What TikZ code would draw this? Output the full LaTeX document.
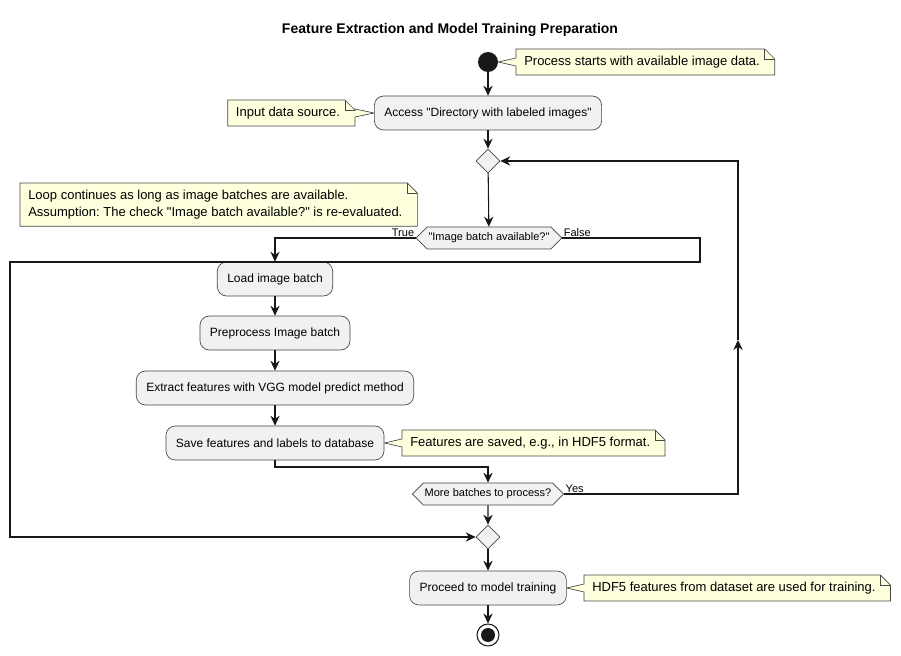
\documentclass[tikz,border=0pt]{standalone}
\usepackage{fontspec}
\setmainfont{Liberation Sans}[Ligatures=TeXOff]
\frenchspacing
\usetikzlibrary{arrows.meta,calc,shapes.geometric,shapes.symbols,backgrounds}

\definecolor{actfill}{HTML}{F1F1F1}
\definecolor{notefill}{HTML}{FEFFDD}
\definecolor{linecol}{HTML}{181818}

\tikzset{
  action/.style={rectangle, rounded corners=7pt, draw=linecol!80, fill=actfill, line width=0.5pt,
    font=\fontsize{9}{11}\selectfont, inner xsep=7.5pt, minimum height=25.5pt},
  test/.style={signal, signal to=east and west, draw=linecol!80, fill=actfill, line width=0.5pt,
    font=\fontsize{8.25}{10}\selectfont, minimum height=16.5pt, inner xsep=1pt},
  merge/.style={diamond, draw=linecol!80, fill=actfill, line width=0.5pt, minimum size=18pt, inner sep=0pt},
  note/.style={font=\fontsize{9.75}{13}\selectfont, inner xsep=6pt, inner ysep=5pt, align=left,
    execute at end node={\hspace*{5pt}}},
  notebox/.style={draw=linecol!80, fill=notefill, line width=0.5pt},
  flow/.style={draw=linecol, line width=0.8pt, -{Stealth[length=7.5pt,width=7pt,inset=2.5pt]}},
  lbl/.style={font=\fontsize{8.25}{10}\selectfont, inner sep=1pt},
}

% note outline, pointer on the left edge towards #2
\newcommand{\notetoleft}[2]{%
  \begin{scope}[on background layer]
    \draw[notebox] (#1.north west) -- ([xshift=-7.5pt]#1.north east) -- ([yshift=-7.5pt]#1.north east)
      -- (#1.south east) -- (#1.south west) -- ($(#1.west |- #2)+(0,-3pt)$) -- (#2)
      -- ($(#1.west |- #2)+(0,3pt)$) -- cycle;
    \draw[notebox, fill=none] ([xshift=-7.5pt]#1.north east) |- ([yshift=-7.5pt]#1.north east);
  \end{scope}}
% note outline, pointer on the right edge towards #2
\newcommand{\notetoright}[2]{%
  \begin{scope}[on background layer]
    \draw[notebox] (#1.north west) -- ([xshift=-7.5pt]#1.north east) -- ([yshift=-7.5pt]#1.north east)
      -- ($(#1.east |- #2)+(0,3pt)$) -- (#2) -- ($(#1.east |- #2)+(0,-3pt)$)
      -- (#1.south east) -- (#1.south west) -- cycle;
    \draw[notebox, fill=none] ([xshift=-7.5pt]#1.north east) |- ([yshift=-7.5pt]#1.north east);
  \end{scope}}
% note outline without pointer
\newcommand{\notefree}[1]{%
  \begin{scope}[on background layer]
    \draw[notebox] (#1.north west) -- ([xshift=-7.5pt]#1.north east) -- ([yshift=-7.5pt]#1.north east)
      -- (#1.south east) -- (#1.south west) -- cycle;
    \draw[notebox, fill=none] ([xshift=-7.5pt]#1.north east) |- ([yshift=-7.5pt]#1.north east);
  \end{scope}}

\begin{document}
\begin{tikzpicture}[x=0.75pt, y=-0.75pt]
  \useasboundingbox (0,0) rectangle (901,656);

  \node[font=\bfseries\fontsize{10.5}{12}\selectfont] (title) at (450,30)
    {Feature Extraction and Model Training Preparation};

  % main flow
  \node[circle, fill=linecol, minimum size=15pt, inner sep=0pt] (start) at (488,62) {};
  \node[action] (access) at (488,113) {Access "Directory with labeled images"};
  \node[merge] (merge1) at (488,161) {};
  \node[test] (check1) at (489,238) {"Image batch available?"};
  \node[action] (load) at (275,279) {Load image batch};
  \node[action] (prep) at (275,333) {Preprocess Image batch};
  \node[action] (extract) at (275,388) {Extract features with VGG model predict method};
  \node[action] (save) at (275,443) {Save features and labels to database};
  \node[test] (check2) at (488,494) {More batches to process?};
  \node[merge] (merge2) at (488,537) {};
  \node[action] (proceed) at (488,588) {Proceed to model training};
  \node[circle, draw=linecol, line width=0.8pt, fill=white, minimum size=16.5pt, inner sep=0pt] (stop) at (488,635) {};
  \node[circle, fill=linecol, minimum size=10.5pt, inner sep=0pt] (stopdot) at (stop) {};

  % notes
  \node[note, anchor=west] (nstart) at (516,62) {Process starts with available image data.};
  \notetoleft{nstart}{start.east}
  \node[note, anchor=east] (nsource) at (355,113) {Input data source.};
  \notetoright{nsource}{access.west}
  \node[note, anchor=north west] (nloop) at (20,183)
    {Loop continues as long as image batches are available.\\
     Assumption: The check "Image batch available?" is re-evaluated.};
  \notefree{nloop}
  \node[note, anchor=west] (nsaved) at (402,443) {Features are saved, e.g., in HDF5 format.};
  \notetoleft{nsaved}{save.east}
  \node[note, anchor=west] (ntrain) at (584,588) {HDF5 features from dataset are used for training.};
  \notetoleft{ntrain}{proceed.east}

  % helper points
  \coordinate (falseright) at (700,262);
  \coordinate (falseleft) at (10,262);
  \coordinate (savejoin) at (488,467);
  \coordinate (yesup) at (738,340);

  % connectors
  \draw[flow] (start) -- (access);
  \draw[flow] (access) -- (merge1);
  \draw[flow] (merge1) -- (check1);
  \draw[flow] (check1.west) -| (load.north);
  \draw[flow] (check1.east) -| (falseright) -- (falseleft) |- (merge2.west);
  \draw[flow] (load) -- (prep);
  \draw[flow] (prep) -- (extract);
  \draw[flow] (extract) -- (save);
  \draw[flow] (save.south) |- (savejoin) -- (check2.north);
  \draw[flow] (check2.east) -| (yesup);
  \draw[flow] (yesup) |- (merge1.east);
  \draw[flow] (check2) -- (merge2);
  \draw[flow] (merge2) -- (proceed);
  \draw[flow] (proceed) -- (stop);

  % branch labels
  \node[lbl, anchor=south east] (ltrue) at (check1.west) {True};
  \node[lbl, anchor=south west] (lfalse) at (check1.east) {False};
  \node[lbl, anchor=south west] (lyes) at (check2.east) {Yes};
\end{tikzpicture}
\end{document}
